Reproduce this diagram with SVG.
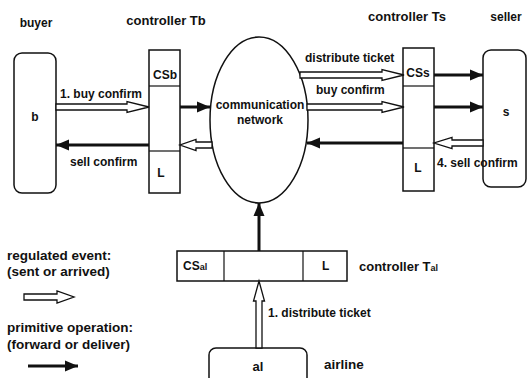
<svg xmlns="http://www.w3.org/2000/svg" width="528" height="378" viewBox="0 0 528 378">
<style>
text{font-family:"Liberation Sans",Arial,sans-serif;font-weight:bold;fill:#111;}
.box{fill:#fff;stroke:#111;stroke-width:1.5;}
.hollow{fill:#fff;stroke:#111;stroke-width:1.3;stroke-linejoin:miter;}
.prim{stroke:#111;stroke-width:3;fill:none;marker-end:url(#ah);}
.t12{font-size:12px;}
.t13{font-size:13px;}
.t14{font-size:13.5px;}
</style>
<defs>
<marker id="ah" markerUnits="userSpaceOnUse" markerWidth="14" markerHeight="12" refX="13" refY="6" orient="auto">
<path d="M0,0.5 L13,6 L0,11.5 Z" fill="#111"/>
</marker>
</defs>
<rect width="528" height="378" fill="#fff"/>

<g id="buyer">
<rect class="box" x="14" y="53" width="42" height="140" rx="8"/>
<text class="t12" x="35" y="121" text-anchor="middle">b</text>
<text class="t12" x="36" y="27" text-anchor="middle">buyer</text>
</g>

<g id="controllerTb">
<rect class="box" x="149" y="50" width="31" height="143"/>
<line x1="149" y1="86" x2="180" y2="86" stroke="#111" stroke-width="1.2"/>
<line x1="149" y1="151" x2="180" y2="151" stroke="#111" stroke-width="1.2"/>
<text class="t12" x="165" y="79" text-anchor="middle">CSb</text>
<text class="t12" x="161" y="177" text-anchor="middle">L</text>
<text class="t13" x="166" y="25" text-anchor="middle">controller Tb</text>
</g>

<g id="network">
<ellipse class="box" cx="259" cy="120" rx="49" ry="83"/>
<text class="t12" x="260" y="109" text-anchor="middle">communication</text>
<text class="t12" x="260" y="124" text-anchor="middle">network</text>
</g>

<g id="controllerTs">
<rect class="box" x="403" y="48" width="31" height="143"/>
<line x1="403" y1="86" x2="434" y2="86" stroke="#111" stroke-width="1.2"/>
<line x1="403" y1="148" x2="434" y2="148" stroke="#111" stroke-width="1.2"/>
<text class="t12" x="418" y="77" text-anchor="middle">CSs</text>
<text class="t12" x="418" y="172" text-anchor="middle">L</text>
<text class="t13" x="407" y="21" text-anchor="middle">controller Ts</text>
</g>

<g id="seller">
<rect class="box" x="483" y="50" width="43" height="137" rx="8"/>
<text class="t12" x="506" y="116" text-anchor="middle">s</text>
<text class="t12" x="506" y="21" text-anchor="middle">seller</text>
</g>

<g id="controllerTal">
<rect class="box" x="177" y="251" width="170" height="30"/>
<line x1="224" y1="251" x2="224" y2="281" stroke="#111" stroke-width="1.2"/>
<line x1="303" y1="251" x2="303" y2="281" stroke="#111" stroke-width="1.2"/>
<text class="t12" x="183" y="270">CS<tspan font-size="9">al</tspan></text>
<text class="t12" x="322" y="270">L</text>
<text class="t13" x="359" y="271">controller T<tspan font-size="9">al</tspan></text>
</g>

<g id="airline">
<rect class="box" x="209" y="348" width="98" height="40" rx="7"/>
<text class="t13" x="258" y="371" text-anchor="middle">al</text>
<text class="t14" x="324" y="369">airline</text>
</g>

<g id="connectors">
<polygon class="hollow" points="56,104 127,104 127,101.5 149,107 127,112.5 127,110 56,110"/>
<text class="t12" x="60" y="98">1. buy confirm</text>
<line class="prim" x1="149" y1="145" x2="56" y2="145"/>
<text class="t12" x="70" y="166">sell confirm</text>
<line class="prim" x1="180" y1="107" x2="210" y2="107"/>
<polygon class="hollow" points="212,142 196,142 196,139.5 180,145 196,150.5 196,148 212,148"/>
<polygon class="hollow" points="300,72 382,72 382,69.5 404,75 382,80.5 382,78 300,78"/>
<text class="t12" x="305" y="62">distribute ticket</text>
<polygon class="hollow" points="307,104 382,104 382,101.5 404,107 382,112.5 382,110 307,110"/>
<text class="t12" x="316" y="94">buy confirm</text>
<line class="prim" x1="403" y1="143" x2="307" y2="143"/>
<line class="prim" x1="434" y1="75" x2="483" y2="75"/>
<line class="prim" x1="434" y1="107" x2="483" y2="107"/>
<polygon class="hollow" points="483,140 452,140 452,137.5 434,143 452,148.5 452,146 483,146"/>
<text class="t12" x="437" y="167">4. sell confirm</text>
<line class="prim" x1="259" y1="251" x2="259" y2="203"/>
<polygon class="hollow" points="256,348 256,301 253.5,301 259,281 264.5,301 262,301 262,348"/>
<text class="t12" x="268" y="317">1. distribute ticket</text>
</g>

<g id="legend">
<text class="t14" x="7" y="260">regulated event:</text>
<text class="t14" x="7" y="276">(sent or arrived)</text>
<polygon class="hollow" points="24,294 57,294 57,291 74,297 57,303 57,300 24,300"/>
<text class="t14" x="7" y="332">primitive operation:</text>
<text class="t14" x="7" y="349">(forward or deliver)</text>
<line class="prim" x1="28" y1="366" x2="78" y2="366"/>
</g>
</svg>
